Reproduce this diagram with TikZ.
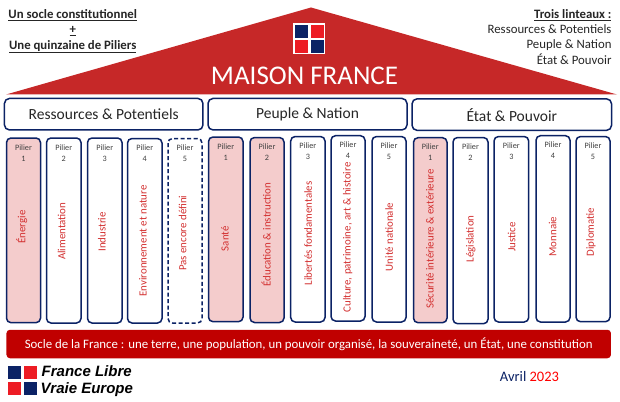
\documentclass[tikz,border=0pt]{standalone}
\usepackage{fontspec}
\setmainfont{Carlito}
\newfontfamily\logofont{Liberation Sans}
\definecolor{navy}{HTML}{0B2265}
\definecolor{roofred}{HTML}{C62828}
\definecolor{basered}{HTML}{C00000}
\definecolor{flagred}{HTML}{ED1C24}
\definecolor{pink}{HTML}{F4CCCC}
\definecolor{lbl}{HTML}{D32F2F}
\tikzset{
  pil/.style={draw=navy,line width=1.5pt,rounded corners=4.5pt,fill=white},
  pilfill/.style={pil,fill=pink},
  lint/.style={draw=navy,line width=1.5pt,rounded corners=5pt,fill=white,font=\fontsize{15.5}{16}\selectfont,text=black!85},
  plabel/.style={rotate=90,text=lbl,font=\fontsize{10.9}{12}\selectfont},
  pnum/.style={font=\fontsize{8.2}{11}\selectfont,text=black!75,align=center},
  head/.style={font=\fontsize{12.8}{15.2}\selectfont,text=black!85},
  logotext/.style={anchor=west,inner sep=0,font=\logofont\fontsize{15}{16}\selectfont\bfseries\itshape},
}
\newcounter{pilc}
\newcommand{\pil}[9]{% x1 x2 y1 y2 style num ycentre xcentre text
  \stepcounter{pilc}%
  \path[#5] (#1,#3) rectangle (#2,#4);
  \node[pnum,anchor=north] (n\arabic{pilc}) at ({(#1+#2)/2},{#3+3}) {Pilier\\#6};
  \node[plabel] (t\arabic{pilc}) at (#8,#7) {#9};
}
\begin{document}
\begin{tikzpicture}[x=1pt,y=-1pt]
\useasboundingbox (0,0) rectangle (620,401);
\fill[white] (0,0) rectangle (620,401);
% roof
\fill[roofred] (6,94.5) -- (311,7.5) -- (617,94.5) -- cycle;
\node[text=white,font=\fontsize{27}{29}\selectfont] (title) at (304.5,76) {MAISON FRANCE};
% flag
\fill[white] (293.3,23.3) rectangle (325,54.5);
\fill[navy] (295,25) rectangle (308,38);
\fill[flagred] (310.5,25) rectangle (323.5,38);
\fill[flagred] (295,40.5) rectangle (308,53);
\fill[navy] (310.5,40.5) rectangle (323.5,53);
% head texts
\node[head,font=\fontsize{12.8}{15.2}\selectfont\bfseries,align=center] (h1) at (72.7,31.5) {\underline{Un socle constitutionnel}\\\underline{+}\\\underline{Une quinzaine de Piliers}};
\node[head,align=right,anchor=north east] (h2) at (615,6) {\textbf{\underline{Trois linteaux :}}\\Ressources \& Potentiels\\Peuple \& Nation\\État \& Pouvoir};
% lintels
\node[lint,minimum width=198.5pt,minimum height=31.5pt,anchor=center] (l1) at (103.7,114.2) {Ressources \& Potentiels};
\node[lint,minimum width=199pt,minimum height=31.5pt] (l2) at (307.5,114.2) {Peuple \& Nation};
\node[lint,minimum width=199.5pt,minimum height=31.5pt] (l3) at (511.8,114.6) {État \& Pouvoir};
% pillars
\pil{6.5}{40.5}{138}{322.7}{pilfill}{1}{227}{21.7}{Énergie}
\pil{46.5}{81}{138}{323}{pil}{2}{231.3}{61.7}{Alimentation}
\pil{87.5}{122}{138}{323}{pil}{3}{231.8}{102}{Industrie}
\pil{127.5}{162}{138.5}{323}{pil}{4}{241}{143}{Environnement et nature}
\pil{168}{202}{138.5}{323}{pil,dashed,dash pattern=on 4pt off 2.5pt}{5}{233.3}{182.7}{Pas encore défini}
\pil{208.5}{243}{137}{321.7}{pilfill}{1}{238.8}{225}{Santé}
\pil{250}{284}{137.5}{322.5}{pilfill}{2}{234.5}{266}{Éducation \& instruction}
\pil{290.7}{325}{136.5}{322}{pil}{3}{233.5}{308}{Libertés fondamentales}
\pil{331}{365}{135.7}{321}{pil}{4}{237.5}{347.7}{Culture, patrimoine, art \& histoire}
\pil{372}{406}{136.5}{322}{pil}{5}{237}{389}{Unité nationale}
\pil{413.5}{447}{137.7}{322.7}{pilfill}{1}{239}{430}{Sécurité intérieure \& extérieure}
\pil{453}{488}{137.5}{323.7}{pil}{2}{239}{470.7}{Législation}
\pil{494}{528.7}{136.5}{322}{pil}{3}{237}{511.7}{Justice}
\pil{536}{570}{135.7}{322}{pil}{4}{236.5}{552.7}{Monnaie}
\pil{576}{610}{136.5}{321.7}{pil}{5}{232}{591}{Diplomatie}
% socle
\node[fill=basered,rounded corners=3.5pt,minimum width=604.5pt,minimum height=28.5pt,inner xsep=0pt,text=white,font=\fontsize{12.85}{15}\selectfont] (socle) at (308.7,344) {Socle de la France : une terre, une population, un pouvoir organisé, la souveraineté, un État, une constitution};
% logo
\fill[navy] (7.5,365.5) rectangle (20.5,378.5);
\fill[flagred] (23.5,365.5) rectangle (36.5,378.5);
\fill[flagred] (7.5,382) rectangle (20.5,395);
\fill[navy] (23.5,382) rectangle (36.5,395);
\node[logotext] (fl) at (41.5,371.5) {France Libre};
\node[logotext] (ve) at (40.5,390) {Vraie Europe};
% date
\node[anchor=center,font=\fontsize{14.5}{16}\selectfont,text=navy] (date) at (529.5,377) {Avril \textcolor{red}{2023}};
\end{tikzpicture}
\end{document}
